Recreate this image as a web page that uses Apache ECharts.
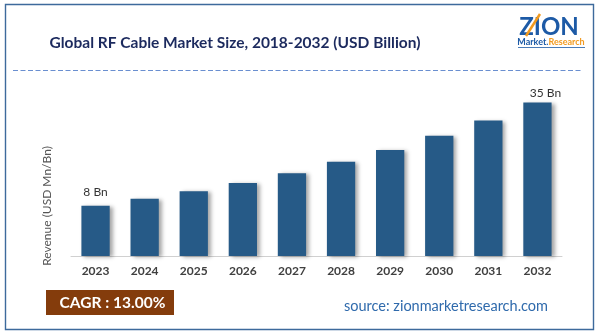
<!DOCTYPE html>
<html>
<head>
<meta charset="utf-8">
<script src="https://cdn.jsdelivr.net/npm/echarts@6/dist/echarts.min.js"></script>
<style>
  html, body { margin: 0; padding: 0; background: #fff; }
  #chart { width: 601px; height: 336px; }
</style>
</head>
<body>
<div id="chart"></div>
<script>
// Market size by year (USD billion)
const years = ['2023', '2024', '2025', '2026', '2027', '2028', '2029', '2030', '2031', '2032'];
const revenue = [8, 9.8, 11.8, 13.9, 16.5, 19.5, 22.6, 26.3, 30.3, 35];
// Only the first and last bars carry a value label
const labelledYears = ['2023', '2032'];
const valueSuffix = ' Bn';

const titleText = 'Global RF Cable Market Size, 2018-2032 (USD Billion)';
const yAxisName = 'Revenue (USD Mn/Bn)';
const cagrText = 'CAGR : 13.00%';
const sourceText = 'source: zionmarketresearch.com';

// Value-axis range (axis itself is hidden)
const yMin = -5.2;
const yMax = 38.3;

const FONT = 'Lato, "Open Sans", sans-serif';
const chart = echarts.init(document.getElementById('chart'), null, { renderer: 'canvas' });

const barColor = '#265a87';

chart.setOption({
  animation: false,
  backgroundColor: '#ffffff',
  grid: { left: 71, right: 39, top: 90, bottom: 80 },
  xAxis: {
    type: 'category',
    data: years,
    axisLine: { onZero: false, lineStyle: { color: '#d0d0d0', width: 1 } },
    axisTick: { show: false },
    axisLabel: { color: '#404040', fontFamily: FONT, fontSize: 12, fontWeight: 'bold', margin: 9 }
  },
  yAxis: {
    type: 'value',
    min: yMin,
    max: yMax,
    show: false,
    splitLine: { show: false }
  },
  series: [{
    type: 'custom',
    data: revenue.map(function (v, i) { return [i, v]; }),
    encode: { x: 0, y: 1 },
    renderItem: function (params, api) {
      const idx = api.value(0);
      const v = api.value(1);
      const top = api.coord([idx, v]);
      const base = api.coord([idx, yMin]);
      const w = api.size([1, 0])[0] * 0.576;
      const children = [{
        type: 'rect',
        shape: { x: top[0] - w / 2, y: top[1], width: w, height: base[1] - top[1] },
        style: {
          fill: barColor,
          shadowColor: 'rgba(0,0,0,0.35)',
          shadowBlur: 4,
          shadowOffsetX: 3,
          shadowOffsetY: 1
        }
      }];
      if (labelledYears.indexOf(years[idx]) >= 0) {
        const last = idx === years.length - 1;
        children.push({
          type: 'text',
          style: {
            x: top[0] + (last ? 8 : 0),
            y: top[1] - (last ? 9 : 14),
            text: v + valueSuffix,
            fill: '#333333',
            font: '12px ' + FONT,
            align: 'center',
            verticalAlign: 'middle'
          }
        });
      }
      return { type: 'group', children: children };
    }
  }],
  graphic: [
    // frame
    {
      type: 'rect',
      shape: { x: 5.5, y: 4.5, width: 588, height: 325 },
      style: { fill: 'none', stroke: '#3d6a9c', lineWidth: 1.4 },
      silent: true
    },
    // title
    {
      type: 'text',
      style: {
        x: 235, y: 43, text: titleText,
        fill: '#1c2a5e', font: 'bold 15.5px ' + FONT,
        align: 'center', verticalAlign: 'middle'
      }
    },
    // dashed separator
    {
      type: 'line',
      shape: { x1: 13, y1: 70.5, x2: 582, y2: 70.5 },
      style: { stroke: '#6a8fd0', lineWidth: 1, lineDash: [5, 2.5] }
    },
    // y-axis name
    {
      type: 'text',
      x: 47, y: 206, rotation: Math.PI / 2,
      style: {
        x: 0, y: 0, text: yAxisName,
        fill: '#555555', font: '12px ' + FONT,
        align: 'center', verticalAlign: 'middle'
      }
    },
    // CAGR badge
    {
      type: 'rect',
      shape: { x: 46, y: 290, width: 128, height: 25 },
      style: { fill: '#843c0c' }
    },
    {
      type: 'text',
      style: {
        x: 112.5, y: 303, text: cagrText,
        fill: '#ffffff', font: 'bold 15.5px ' + FONT,
        align: 'center', verticalAlign: 'middle'
      }
    },
    // source
    {
      type: 'text',
      style: {
        x: 446, y: 306.5, text: sourceText,
        fill: '#2f6aac', font: '14.5px ' + FONT,
        align: 'center', verticalAlign: 'middle'
      }
    },
    // logo wordmark
    {
      type: 'text',
      style: {
        x: 549, y: 27, text: 'ZION',
        fill: '#1d5aa6', font: 'bold 24px ' + FONT,
        align: 'center', verticalAlign: 'middle'
      }
    },
    {
      type: 'line',
      shape: { x1: 526, y1: 36, x2: 540, y2: 14 },
      style: { stroke: '#f29a1f', lineWidth: 2.5 }
    },
    {
      type: 'text',
      style: {
        x: 551, y: 42.5,
        text: '{a|Market.}{b|Research}',
        align: 'center', verticalAlign: 'middle',
        rich: {
          a: { fill: '#1d5aa6', font: 'bold 9px ' + FONT },
          b: { fill: '#f29a1f', font: 'bold 9px ' + FONT }
        }
      }
    },
    {
      type: 'line',
      shape: { x1: 518, y1: 47.5, x2: 585, y2: 47.5 },
      style: { stroke: '#1d5aa6', lineWidth: 0.8 }
    }
  ]
});
</script>
</body>
</html>
